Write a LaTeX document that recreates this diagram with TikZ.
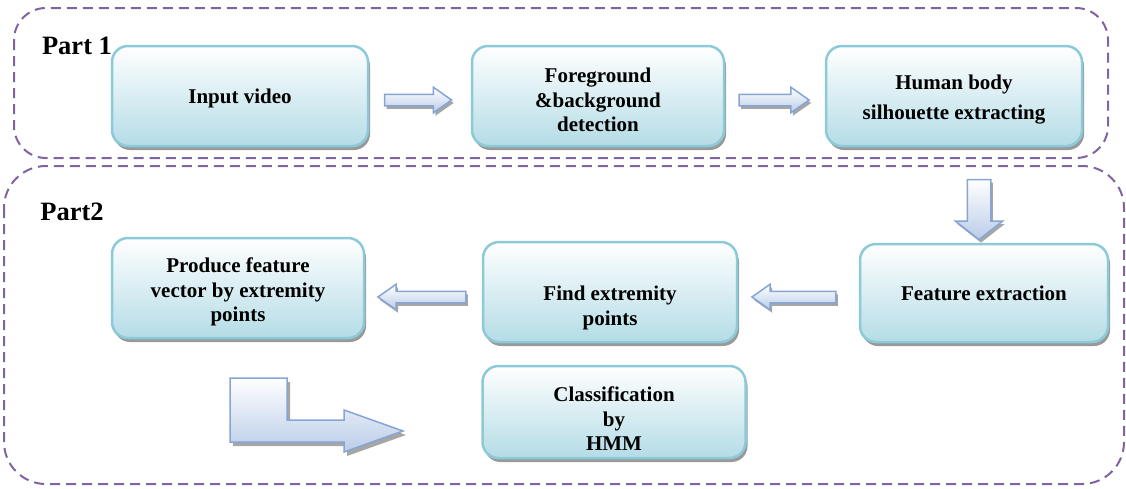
\documentclass[tikz,border=0pt]{standalone}
\usepackage{fontspec}
\setmainfont{Liberation Serif}
\usetikzlibrary{shapes.arrows,shadows}

\definecolor{boxline}{RGB}{140,202,216}
\definecolor{boxfill}{RGB}{180,220,230}
\definecolor{arrline}{RGB}{135,165,212}
\definecolor{arrfill}{RGB}{186,204,232}
\definecolor{partline}{RGB}{128,100,162}

\tikzset{
  stage/.style={draw=boxline, line width=2.5pt, rounded corners=16pt,
    top color=white, bottom color=boxfill, align=center,
    font=\bfseries\fontsize{21}{24.5}\selectfont,
    drop shadow={shadow xshift=2pt, shadow yshift=-4pt, fill=black!40, opacity=1}},
  part/.style={draw=partline, line width=2pt, dash pattern=on 10pt off 6pt},
  parttitle/.style={font=\bfseries\fontsize{26.5}{30}\selectfont},
  blockarrow/.style={single arrow, draw=arrline, line width=1.5pt,
    top color=white, bottom color=arrfill, inner xsep=0pt, inner ysep=5pt,
    minimum width=24pt, single arrow head extend=7pt, single arrow tip angle=70,
    drop shadow={shadow xshift=2pt, shadow yshift=-3pt, fill=black!35, opacity=1}}
}

\begin{document}
\begin{tikzpicture}[x=1pt,y=-1pt]
	\useasboundingbox (0,0) rectangle (1126,488);

	% the two parts
	\draw[part, rounded corners=32pt] (14,8) rectangle (1108,158);
	\draw[part, rounded corners=42pt] (4,166) rectangle (1124,484);
	\node[parttitle] (p1) at (77,46) {Part 1};
	\node[parttitle] (p2) at (72,212) {Part2};

	% stages
	\node[stage, minimum width=256pt, minimum height=100pt, text depth=-3pt] (input) at (240,96) {Input video};
	\node[stage, minimum width=252pt, minimum height=100pt] (fgbg) at (598,96) {};
	\node[font=\bfseries\fontsize{21}{24.5}\selectfont, align=center] (fgbgtxt) at (598,100) {Foreground\\\&background\\detection};
	\node[stage, minimum width=256pt, minimum height=100pt] (body) at (954,96) {};
	\node[font=\bfseries\fontsize{21}{30}\selectfont, align=center] (bodytxt) at (954,100) {Human body\\silhouette extracting};
	\node[stage, minimum width=248pt, minimum height=98pt, text depth=-3pt] (feat) at (984,293) {Feature extraction};
	\node[stage, minimum width=254pt, minimum height=100pt] (find) at (610,292) {};
	\node[font=\bfseries\fontsize{21}{24.5}\selectfont, align=center] (findtxt) at (610,308) {Find extremity\\points};
	\node[stage, minimum width=252pt, minimum height=100pt] (vec) at (238,288) {};
	\node[font=\bfseries\fontsize{21}{24.5}\selectfont, align=center] (vectxt) at (238,292) {Produce feature\\vector by extremity\\points};
	\node[stage, minimum width=263pt, minimum height=92pt] (cls) at (614,412) {};
	\node[font=\bfseries\fontsize{21}{24.5}\selectfont, align=center] (clstxt) at (614,419) {Classification\\by\\HMM};

	% arrows between stages
	\node[blockarrow, minimum height=67pt] (a1) at (414,100) {};
	\node[blockarrow, minimum height=70pt] (a2) at (770,100) {};
	\node[blockarrow, shape border rotate=270, minimum height=60pt, inner xsep=11pt, inner ysep=0pt, minimum width=46pt, single arrow head extend=12pt, single arrow tip angle=104] (a3) at (979,205) {};
	\node[blockarrow, shape border rotate=180, minimum height=84pt] (a4) at (798,297) {};
	\node[blockarrow, shape border rotate=180, minimum height=88pt] (a5) at (426,297) {};

	% bent arrow to the classifier
	\filldraw[draw=arrline, line width=1.5pt, top color=white, bottom color=arrfill,
	  drop shadow={shadow xshift=3pt, shadow yshift=-4pt, fill=black!35, opacity=1}]
	  (230,378) -- (287,378) -- (287,420) -- (344,420) -- (344,410) -- (403,431)
	  -- (344,452) -- (344,442) -- (230,442) -- cycle;
\end{tikzpicture}
\end{document}
